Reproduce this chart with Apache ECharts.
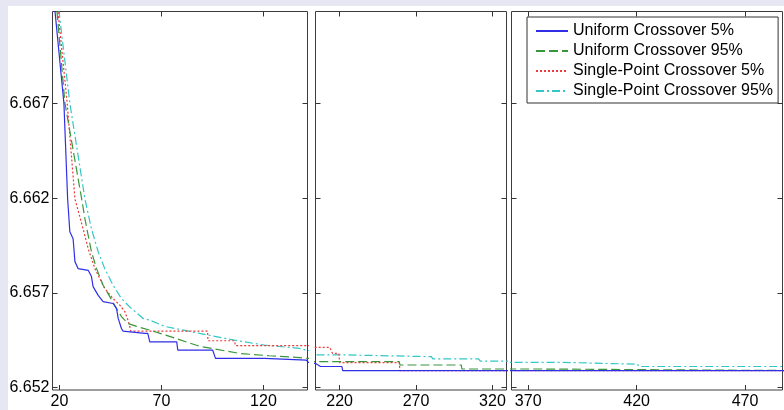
<!DOCTYPE html>
<html>
<head>
<meta charset="utf-8">
<title>Crossover convergence</title>
<script src="https://cdn.jsdelivr.net/npm/echarts@6/dist/echarts.min.js"></script>
<style>
  html, body { margin: 0; padding: 0; background: #e7e7f3; }
  #paper { position: absolute; left: 8px; top: 6px; width: 776px; height: 404px; background: #fff; }
  #main { position: absolute; left: 0; top: 0; width: 784px; height: 410px; }
</style>
</head>
<body>
<div id="paper"></div>
<div id="main"></div>
<script>
// series names
const names = ['Uniform Crossover 5%', 'Uniform Crossover 95%', 'Single-Point Crossover 5%', 'Single-Point Crossover 95%'];

// [iteration, best fitness]
const uniform5 = [[16, 6.6737], [17.8, 6.6719], [22.2, 6.6670], [24.0, 6.6620], [25.1, 6.66023], [26.7, 6.65986],
  [27.6, 6.65865], [29.2, 6.65828], [34.1, 6.65819], [35.7, 6.65786], [36.5, 6.65733], [39.0, 6.65687],
  [41.4, 6.65654], [46.3, 6.65644], [48.0, 6.65617], [48.8, 6.65565], [50.4, 6.65512], [51.2, 6.65498],
  [61.8, 6.65486], [63.3, 6.65486], [64.3, 6.65441], [77.5, 6.65441], [78, 6.65398], [95.1, 6.65398],
  [96.5, 6.65354], [120.5, 6.65354], [121, 6.65345], [141, 6.65345], [142, 6.65333], [204, 6.65328],
  [207.5, 6.65311], [221.5, 6.65311], [222, 6.65289], [500, 6.65289]];
const uniform95 = [[16, 6.6753], [18.8, 6.67186], [22.7, 6.66702], [30.9, 6.66196], [32.5, 6.66091], [34.1, 6.66003],
  [35.7, 6.65917], [38.2, 6.65828], [41.4, 6.6574], [44.7, 6.6568], [48.0, 6.65617], [50.4, 6.65575],
  [53.6, 6.65538], [57.8, 6.65523], [64.3, 6.65503], [74.0, 6.6547], [88.7, 6.65418], [108.3, 6.6538],
  [122.9, 6.65368], [137.6, 6.65358], [141.5, 6.65354], [204, 6.65337], [259, 6.65337], [259.5, 6.65319],
  [299.6, 6.65319], [300, 6.65298], [375, 6.65298], [375.5, 6.65289], [500, 6.65289]];
const single5 = [[16, 6.6754], [19.3, 6.67186], [23.8, 6.66702], [27.6, 6.66196], [31.6, 6.66038], [34.1, 6.65933],
  [37.4, 6.65828], [42.2, 6.65723], [46.3, 6.6567], [49.6, 6.65635], [52.0, 6.65602], [53.6, 6.65556],
  [54.5, 6.65521], [55.0, 6.65498], [92.6, 6.65498], [92.8, 6.65447], [105.8, 6.65447], [106.3, 6.65421],
  [141.5, 6.65421], [204, 6.65412], [213.5, 6.65412], [215.4, 6.6538], [219.5, 6.6538], [220, 6.65332],
  [259, 6.65332], [259.5, 6.65289], [500, 6.65289]];
const single95 = [[16, 6.6753], [19.8, 6.67186], [25.1, 6.66702], [32.5, 6.66196], [35.7, 6.66038], [39.0, 6.65917],
  [42.2, 6.65828], [46.3, 6.6574], [50.4, 6.6567], [55.3, 6.65617], [61.0, 6.65565], [64.3, 6.65556],
  [71.6, 6.65523], [88.7, 6.65486], [105.8, 6.6545], [120.5, 6.65424], [137.6, 6.65407], [141.5, 6.65396],
  [204, 6.65372], [226, 6.65372], [227, 6.65363], [280, 6.65363], [281, 6.65351], [311, 6.65351],
  [312, 6.6534], [340, 6.6534], [341, 6.65333], [385.8, 6.65333], [386, 6.65323], [420.5, 6.65323],
  [421, 6.65311], [500, 6.65311]];

// axis ranges and tick labels of the three broken-axis panels
const xRanges = [[16.6, 141.6], [204.2, 329.2], [362.3, 487.3]];
const xTicks = [[20, 70, 120], [220, 270, 320], [370, 420, 470]];
const yRange = [6.65187, 6.67186];
const yTicks = [6.652, 6.657, 6.662, 6.667];

const allData = [uniform5, uniform95, single5, single95];
const colors = ['#2f2fe6', '#3a963a', '#ee3a3a', '#35c6c6'];
const dashes = ['solid', [9, 4], [2, 2], [8, 3, 2, 3]];

const font = 'Liberation Sans, Arial, sans-serif';
const panels = [
  {left: 52.5, width: 255},
  {left: 315.5, width: 191},
  {left: 511.5, width: 271}
];

const grid = [], xAxis = [], yAxis = [], series = [];
const tick = {show: true, inside: true, length: 5, lineStyle: {color: '#333'}};

panels.forEach(function (p, g) {
  grid.push({left: p.left, width: p.width, top: 11.5, height: 380, show: true,
    borderColor: '#3c3c3c', borderWidth: 1, backgroundColor: 'transparent'});
});
// bottom / left axes (with labels)
panels.forEach(function (p, g) {
  xAxis.push({type: 'value', gridIndex: g, position: 'bottom', min: xRanges[g][0], max: xRanges[g][1],
    axisLine: {show: false}, splitLine: {show: false},
    axisTick: Object.assign({customValues: xTicks[g]}, tick),
    axisLabel: {customValues: xTicks[g], margin: 4, fontSize: 16, color: '#000', fontFamily: font}});
  yAxis.push({type: 'value', gridIndex: g, position: 'left', min: yRange[0], max: yRange[1],
    axisLine: {show: false}, splitLine: {show: false},
    axisTick: Object.assign({customValues: yTicks}, tick),
    axisLabel: {show: g === 0, customValues: yTicks, margin: 3, fontSize: 16, color: '#000', fontFamily: font,
      formatter: function (v) { return v.toFixed(3); }}});
});
// mirrored top / right ticks, like a boxed plot
panels.forEach(function (p, g) {
  xAxis.push({type: 'value', gridIndex: g, position: 'top', min: xRanges[g][0], max: xRanges[g][1],
    axisLine: {show: false}, splitLine: {show: false},
    axisTick: Object.assign({customValues: xTicks[g]}, tick), axisLabel: {show: false}});
  yAxis.push({type: 'value', gridIndex: g, position: 'right', min: yRange[0], max: yRange[1],
    axisLine: {show: false}, splitLine: {show: false},
    axisTick: Object.assign({customValues: yTicks}, tick), axisLabel: {show: false}});
});

panels.forEach(function (p, g) {
  allData.forEach(function (d, k) {
    series.push({
      name: names[k], type: 'line', xAxisIndex: g, yAxisIndex: g,
      data: d, symbol: 'none', clip: true, z: 2 + (3 - k),
      color: colors[k],
      lineStyle: {color: colors[k], width: 1.2, type: dashes[k]}
    });
  });
});

const chart = echarts.init(document.getElementById('main'), null, {renderer: 'canvas'});
chart.setOption({
  animation: false,
  backgroundColor: 'transparent',
  grid: grid,
  xAxis: xAxis,
  yAxis: yAxis,
  legend: {
    data: names, orient: 'vertical', left: 527, top: 17,
    padding: [6, 5, 4, 8], itemWidth: 32, itemHeight: 14, itemGap: 4,
    itemStyle: {opacity: 0},
    backgroundColor: '#fff', borderColor: '#333', borderWidth: 1, borderRadius: 0,
    textStyle: {fontSize: 16, color: '#000', fontFamily: font}
  },
  series: series
});
</script>
</body>
</html>
